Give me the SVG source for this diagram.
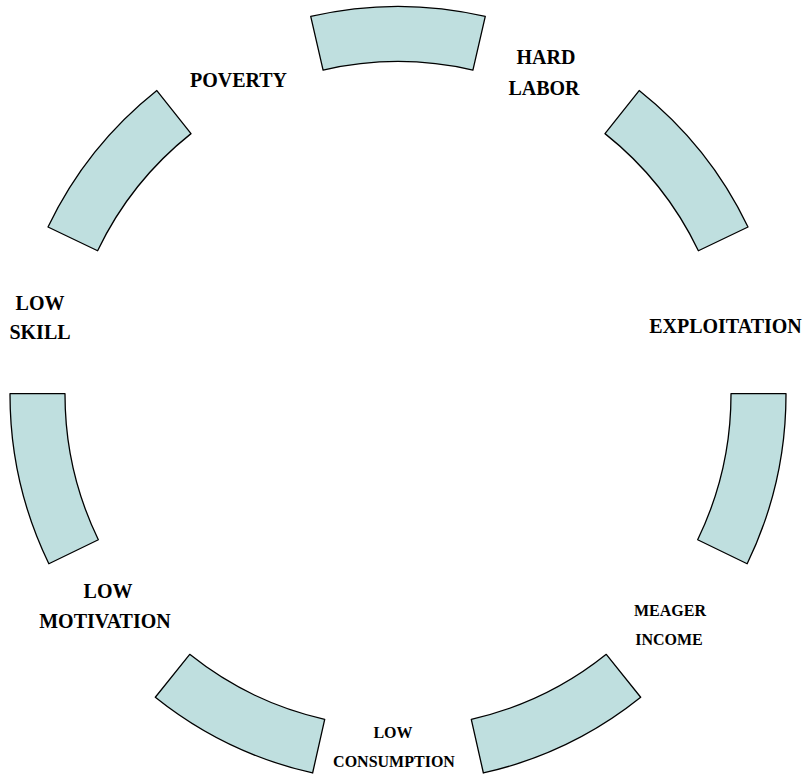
<svg xmlns="http://www.w3.org/2000/svg" width="809" height="775" viewBox="0 0 809 775">
<style>
.seg{fill:#bfdfdf;stroke:#000;stroke-width:1.3;stroke-linejoin:round}
.lbl{font-family:"Liberation Serif","Times New Roman",serif;font-weight:bold;fill:#000;text-anchor:middle}
.big{font-size:20px}
.sm{font-size:16px}
</style>
<rect width="809" height="775" fill="#fff"/>
<g id="segments">
<g id="seg-top"><path class="seg" d="M310.72,16.44 A388,388 0 0 1 485.28,16.44 L472.91,70.03 A333,333 0 0 0 323.09,70.03 Z"/></g>
<g id="seg-upper-right"><path class="seg" d="M639.16,90.54 A388,388 0 0 1 748.00,227.02 L698.39,250.76 A333,333 0 0 0 604.98,133.63 Z"/></g>
<g id="seg-right"><path class="seg" d="M786.00,393.53 A388,388 0 0 1 747.15,563.72 L697.66,539.73 A333,333 0 0 0 731.00,393.67 Z"/></g>
<g id="seg-lower-right"><path class="seg" d="M640.69,697.27 A388,388 0 0 1 483.39,772.99 L471.29,719.34 A333,333 0 0 0 606.28,654.35 Z"/></g>
<g id="seg-lower-left"><path class="seg" d="M312.61,772.99 A388,388 0 0 1 155.31,697.27 L189.72,654.35 A333,333 0 0 0 324.71,719.34 Z"/></g>
<g id="seg-left"><path class="seg" d="M48.85,563.72 A388,388 0 0 1 10.00,393.53 L65.00,393.67 A333,333 0 0 0 98.34,539.73 Z"/></g>
<g id="seg-upper-left"><path class="seg" d="M48.00,227.02 A388,388 0 0 1 156.84,90.54 L191.02,133.63 A333,333 0 0 0 97.61,250.76 Z"/></g>
</g>
<g id="connectors"></g>
<g id="label-poverty"><text class="lbl big" x="238.5" y="87">POVERTY</text></g>
<g id="label-hard-labor"><text class="lbl big" x="546" y="64">HARD</text><text class="lbl big" x="544" y="95">LABOR</text></g>
<g id="label-exploitation"><text class="lbl big" x="725.5" y="333">EXPLOITATION</text></g>
<g id="label-meager-income"><text class="lbl sm" x="670" y="616">MEAGER</text><text class="lbl sm" x="669" y="645">INCOME</text></g>
<g id="label-low-consumption"><text class="lbl sm" x="393" y="738">LOW</text><text class="lbl sm" x="394" y="767">CONSUMPTION</text></g>
<g id="label-low-motivation"><text class="lbl big" x="108" y="598">LOW</text><text class="lbl big" x="105" y="628">MOTIVATION</text></g>
<g id="label-low-skill"><text class="lbl big" x="40" y="310">LOW</text><text class="lbl big" x="40" y="339">SKILL</text></g>
</svg>
